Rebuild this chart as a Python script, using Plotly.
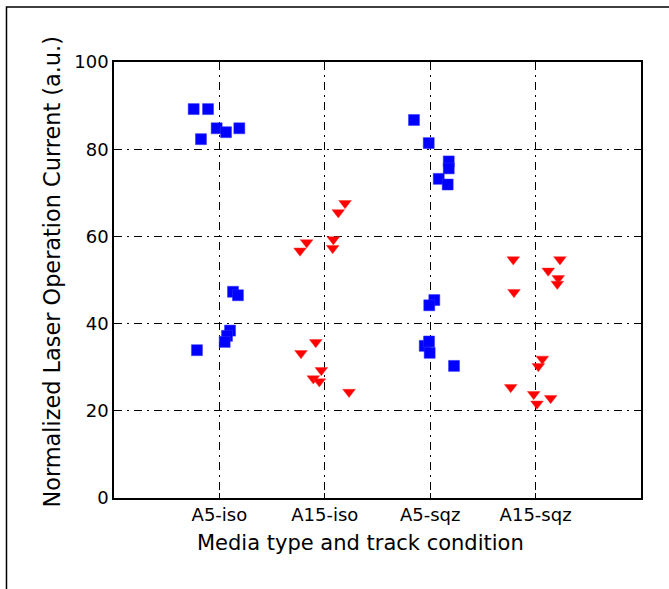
import plotly.graph_objects as go

# Category tick labels (positions 1..4 on the x axis)
categories = ["A5-iso", "A15-iso", "A5-sqz", "A15-sqz"]
category_pos = [1, 2, 3, 4]

# A5 media (blue squares): jittered x positions and values
a5_iso_x = [0.756, 0.892, 0.825, 0.974, 1.063, 1.189, 1.129, 1.176, 1.101, 1.072, 1.050, 0.787]
a5_iso_y = [89.2, 89.2, 82.3, 84.8, 83.9, 84.8, 47.3, 46.5, 38.4, 37.2, 35.8, 33.9]
a5_sqz_x = [2.846, 2.986, 3.176, 3.176, 3.081, 3.166, 3.039, 2.991, 2.948, 2.989, 2.995, 3.226]
a5_sqz_y = [86.7, 81.4, 77.2, 75.6, 73.2, 71.9, 45.4, 44.2, 34.9, 35.9, 33.3, 30.3]

# A15 media (red down-triangles)
a15_iso_x = [2.192, 2.128, 1.828, 1.765, 2.081, 2.075, 1.914, 1.774, 1.967, 1.891, 1.948, 2.230]
a15_iso_y = [67.6, 65.5, 58.6, 56.7, 59.3, 57.3, 35.7, 33.2, 29.3, 27.4, 26.7, 24.3]
a15_sqz_x = [3.788, 4.231, 4.120, 4.215, 4.206, 3.795, 4.064, 4.026, 3.764, 3.982, 4.143, 4.013]
a15_sqz_y = [54.7, 54.7, 52.1, 50.4, 49.1, 47.2, 31.9, 30.2, 25.4, 23.8, 22.9, 21.6]

fig = go.Figure()

fig.add_trace(go.Scatter(
    x=a5_iso_x + a5_sqz_x, y=a5_iso_y + a5_sqz_y, mode="markers",
    marker=dict(symbol="square", size=11, color="#0000ff",
                line=dict(color="#3333ff", width=0.5)),
    showlegend=False,
))
fig.add_trace(go.Scatter(
    x=a15_iso_x + a15_sqz_x, y=a15_iso_y + a15_sqz_y, mode="markers",
    marker=dict(symbol="triangle-down", size=11, color="#ff0000",
                line=dict(color="#ff3333", width=0.5)),
    showlegend=False,
))

grid_dash = "8px,5px,2px,5px"
font = "DejaVu Sans"

fig.update_xaxes(
    range=[0, 5], tickmode="array", tickvals=category_pos, ticktext=categories,
    showgrid=True, gridcolor="black", gridwidth=1, griddash=grid_dash,
    zeroline=False, showline=True, linecolor="black", linewidth=1.5, mirror="ticks",
    ticks="inside", ticklen=5, tickcolor="black", tickwidth=1,
    tickfont=dict(family=font, size=18, color="black"),
)
fig.update_yaxes(
    range=[0, 100], tickmode="array", tickvals=[0, 20, 40, 60, 80, 100],
    showgrid=True, gridcolor="black", gridwidth=1, griddash=grid_dash,
    zeroline=False, showline=True, linecolor="black", linewidth=1.5, mirror="ticks",
    ticks="inside", ticklen=5, tickcolor="black", tickwidth=1,
    tickfont=dict(family=font, size=18, color="black"),
)

fig.update_layout(
    width=669, height=589,
    margin=dict(l=114, r=28, t=62, b=91),
    paper_bgcolor="white", plot_bgcolor="white",
    font=dict(family=font, color="black"),
    annotations=[
        dict(text="Media type and track condition", xref="paper", yref="paper",
             x=0.467, y=-0.103, xanchor="center", yanchor="middle", showarrow=False,
             font=dict(family=font, size=21, color="black")),
        dict(text="Normalized Laser Operation Current (a.u.)", xref="paper", yref="paper",
             x=-0.118, y=0.519, xanchor="center", yanchor="middle", textangle=-90,
             showarrow=False, font=dict(family=font, size=22.4, color="black")),
    ],
    shapes=[
        dict(type="rect", xref="paper", yref="paper",
             x0=-0.204, x1=1.2, y0=-0.4, y1=1.126,
             line=dict(color="black", width=1.5), fillcolor="rgba(0,0,0,0)", layer="above"),
    ],
)

fig.write_html("out.html")
